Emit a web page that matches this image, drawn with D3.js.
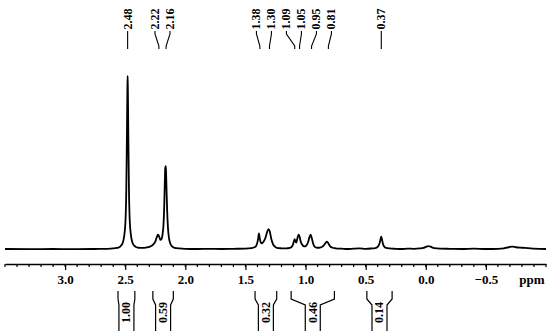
<!DOCTYPE html>
<html>
<head>
<meta charset="utf-8">
<script src="https://cdn.jsdelivr.net/npm/d3@7"></script>
<style>
  body { margin: 0; background: #fff; }
  text { font-family: "Liberation Serif", "Times New Roman", serif; font-weight: bold; }
</style>
</head>
<body>
<div id="nmr"></div>
<script>
// 1H NMR spectrum, ppm axis reversed

// spectrum trace: [ppm, intensity (tallest peak = 100)]
var spectrum = [
  [3.50, 0.3], [3.30, 0.2], [3.10, 0.3], [2.90, 0.2], [2.75, 0.3], [2.65, 0.4],
  [2.60, 0.6], [2.57, 0.9], [2.55, 1.3], [2.535, 2.2], [2.52, 4], [2.508, 8],
  [2.498, 16], [2.491, 35], [2.486, 65], [2.482, 92], [2.480, 100], [2.478, 92],
  [2.474, 65], [2.469, 35], [2.462, 16], [2.452, 8], [2.44, 4], [2.425, 2.2],
  [2.41, 1.4], [2.39, 1.0], [2.36, 0.9], [2.32, 1.2], [2.29, 1.8], [2.265, 3],
  [2.25, 4.5], [2.238, 7], [2.228, 8.5], [2.218, 7.5], [2.208, 5.5], [2.198, 6],
  [2.19, 8.5], [2.182, 14], [2.176, 24], [2.171, 38], [2.167, 47], [2.164, 48],
  [2.161, 46], [2.157, 36], [2.151, 22], [2.144, 12], [2.136, 6.5], [2.125, 3.5],
  [2.11, 1.8], [2.09, 1.0], [2.05, 0.6], [2.00, 0.4], [1.90, 0.3], [1.80, 0.4],
  [1.70, 0.3], [1.60, 0.4], [1.50, 0.5], [1.45, 0.8], [1.42, 1.4], [1.405, 3],
  [1.395, 6], [1.388, 9.3], [1.381, 6.5], [1.372, 4], [1.362, 3.6], [1.35, 4.5],
  [1.335, 6.5], [1.32, 10], [1.308, 11.8], [1.298, 10.5], [1.285, 6], [1.27, 3],
  [1.255, 1.6], [1.24, 1.0], [1.20, 0.7], [1.16, 0.6], [1.13, 0.9], [1.11, 2],
  [1.10, 4], [1.091, 6], [1.084, 4.5], [1.077, 4], [1.068, 6.5], [1.058, 8.5],
  [1.05, 7.5], [1.04, 4.5], [1.025, 2.5], [1.01, 1.8], [0.995, 2.2], [0.98, 4],
  [0.968, 7], [0.958, 8.5], [0.948, 6.5], [0.937, 3.5], [0.925, 1.6], [0.91, 1.1],
  [0.89, 1.0], [0.87, 1.3], [0.85, 2.2], [0.835, 3.7], [0.822, 4.5], [0.81, 3.5],
  [0.795, 1.8], [0.775, 1.0], [0.75, 0.7], [0.70, 0.5], [0.65, 0.3], [0.60, 0.5],
  [0.55, 0.6], [0.50, 0.4], [0.45, 0.6], [0.42, 0.8], [0.40, 1.5], [0.385, 3.5],
  [0.376, 6], [0.371, 7.4], [0.365, 6], [0.356, 3.2], [0.345, 1.6], [0.33, 0.9],
  [0.30, 0.6], [0.25, 0.4], [0.20, 0.3], [0.15, 0.5], [0.10, 0.4], [0.05, 0.6],
  [0.02, 0.9], [0.00, 1.5], [-0.02, 2], [-0.04, 1.6], [-0.07, 0.8], [-0.12, 0.5],
  [-0.20, 0.4], [-0.30, 0.3], [-0.40, 0.5], [-0.50, 0.3], [-0.60, 0.4], [-0.65, 0.7],
  [-0.69, 1.3], [-0.72, 1.7], [-0.75, 1.3], [-0.80, 1.0], [-0.85, 0.8], [-0.90, 0.5],
  [-1.00, 0.3]
];

// peak picking labels (ppm)
var peakLabels = [2.48, 2.22, 2.16, 1.38, 1.30, 1.09, 1.05, 0.95, 0.81, 0.37];

// integration regions and their values
var integralRanges = [[2.56, 2.42], [2.27, 2.10], [1.42, 1.24], [1.12, 0.76], [0.49, 0.28]];
var integralValues = ["1.00", "0.59", "0.32", "0.46", "0.14"];

// axis ticks
var majorTicks = [3.0, 2.5, 2.0, 1.5, 1.0, 0.5, 0.0, -0.5];
var minorTicks = d3.range(35, -11, -1).map(d => d / 10);

var svgWidth = 550;
var svgHeight = 331;

var svg = d3.select("#nmr")
  .append("svg")
  .attr("width", svgWidth)
  .attr("height", svgHeight);

var xScale = d3.scaleLinear()
  .domain([3.5, -1.0])
  .range([5, 546]);

var yScale = d3.scaleLinear()
  .domain([0, 100])
  .range([249.5, 76]);

var axisY = 264;

// minor ticks first, then the main axis on top
svg.append("g")
  .attr("transform", `translate(0, ${axisY})`)
  .selectAll("line")
  .data(minorTicks)
  .enter()
  .append("line")
  .attr("x1", d => xScale(d))
  .attr("x2", d => xScale(d))
  .attr("y1", 0)
  .attr("y2", 3)
  .attr("stroke", "#000")
  .attr("stroke-width", 1.2);

var bottomAxis = d3.axisBottom(xScale)
  .tickValues(majorTicks)
  .tickFormat(d3.format(".1f"))
  .tickSize(6)
  .tickSizeOuter(0)
  .tickPadding(5);

var axisG = svg.append("g")
  .attr("transform", `translate(0, ${axisY})`)
  .call(bottomAxis);

axisG.select(".domain").attr("stroke-width", 1.6);
axisG.selectAll(".tick line").attr("stroke-width", 1.2);
axisG.selectAll(".tick text")
  .attr("font-family", "Liberation Serif, Times New Roman, serif")
  .attr("font-weight", "bold")
  .attr("font-size", "13px")
  .attr("fill", "#000");

svg.append("text")
  .attr("x", 532)
  .attr("y", axisY + 20)
  .attr("text-anchor", "middle")
  .attr("font-size", "13px")
  .text("ppm");

// spectrum trace
var line = d3.line()
  .x(d => xScale(d[0]))
  .y(d => yScale(d[1]))
  .curve(d3.curveMonotoneX);

svg.append("path")
  .datum(spectrum)
  .attr("d", line)
  .attr("fill", "none")
  .attr("stroke", "#000")
  .attr("stroke-width", 1.8)
  .attr("stroke-linejoin", "round");

// spread peak labels so they don't overlap
var gap = 15;
var peaks = peakLabels.map(p => ({ ppm: p, px: xScale(p) }));
var clusters = [];
peaks.forEach(function(p) {
  clusters.push({ items: [p] });
  var merged = true;
  while (merged && clusters.length > 1) {
    merged = false;
    var a = clusters[clusters.length - 2];
    var b = clusters[clusters.length - 1];
    var aEnd = place(a);
    var bStart = place(b);
    if (bStart[0] - aEnd[aEnd.length - 1] < gap) {
      a.items = a.items.concat(b.items);
      clusters.pop();
      merged = true;
    }
  }
});
function place(c) {
  var mean = d3.mean(c.items, d => d.px);
  var first = mean - (c.items.length - 1) * gap / 2;
  return c.items.map((d, i) => first + i * gap);
}
clusters.forEach(function(c) {
  var pos = place(c);
  c.items.forEach((d, i) => { d.lx = pos[i]; });
});

var labelG = svg.append("g");

labelG.selectAll("path")
  .data(peaks)
  .enter()
  .append("path")
  .attr("d", d => `M${d.lx},31 V34 L${d.px},46 V49`)
  .attr("fill", "none")
  .attr("stroke", "#000")
  .attr("stroke-width", 1.1);

labelG.selectAll("text")
  .data(peaks)
  .enter()
  .append("text")
  .attr("transform", d => `translate(${d.lx}, 29.5) rotate(-90)`)
  .attr("dy", "0.33em")
  .attr("font-size", "12px")
  .attr("text-anchor", "start")
  .text(d => d.ppm.toFixed(2));

// integration brackets
var intG = svg.append("g");

integralRanges.forEach(function(r, i) {
  var x1 = xScale(r[0]);
  var x2 = xScale(r[1]);
  var cx = (x1 + x2) / 2;
  var inL = cx - 7.5 > x1 ? cx - 7.5 : x1;
  var inR = cx + 7.5 < x2 ? cx + 7.5 : x2;
  intG.append("path")
    .attr("d", `M${x1},291 V299 L${inL},305 V332 M${x2},291 V299 L${inR},305 V332`)
    .attr("fill", "none")
    .attr("stroke", "#000")
    .attr("stroke-width", 1.2);
  intG.append("text")
    .attr("transform", `translate(${cx}, 323) rotate(-90)`)
    .attr("dy", "0.33em")
    .attr("font-size", "12px")
    .attr("text-anchor", "start")
    .text(integralValues[i]);
});
</script>
</body>
</html>
